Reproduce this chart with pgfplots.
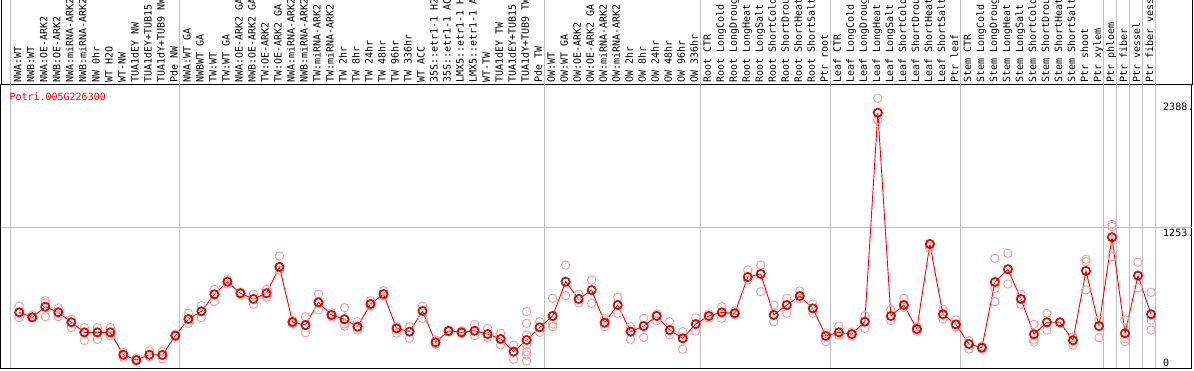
\documentclass[border=0pt]{standalone}
\usepackage{pgfplots}
\pgfplotsset{compat=1.18}
\usepackage{pgfplotstable}
\usepackage{fontspec}
\setmonofont{DejaVu Sans Mono}
\definecolor{rep}{RGB}{240,165,165}
\definecolor{sep}{RGB}{192,192,192}

\pgfplotstableread{
x y
0 515
1 472
2 564
3 515
4 428
5 340
6 340
7 340
8 144
9 98
10 144
11 142
12 311
13 457
14 524
15 673
16 783
17 682
18 632
19 682
20 912
21 430
22 404
23 603
24 492
25 454
26 389
27 588
28 675
29 375
30 346
31 527
32 253
33 352
34 340
35 354
36 325
37 282
38 171
39 273
40 384
41 483
42 783
43 632
44 710
45 424
46 579
47 346
48 395
49 483
50 360
51 288
52 413
53 483
54 515
55 507
56 824
57 851
58 492
59 579
60 658
61 550
62 308
63 340
64 325
65 433
66 2262
67 483
68 579
69 369
70 1113
71 498
72 410
73 238
74 206
75 780
76 892
77 632
78 323
79 428
80 428
81 270
82 877
83 395
84 1172
85 332
86 836
87 498
}\means

\pgfplotstableread{
x y
0 570
0 468
1 492
1 466
2 617
2 477
2 597
3 553
3 477
4 454
4 381
5 381
5 270
6 381
6 279
7 381
7 311
8 162
8 122
9 115
9 89
10 179
10 127
11 171
11 107
12 325
12 299
13 507
13 419
14 573
14 468
15 716
15 608
16 802
16 763
17 690
17 667
18 673
18 585
19 716
19 647
20 1008
20 885
21 444
21 413
22 477
22 337
23 675
23 536
24 509
24 474
25 556
25 395
25 413
26 433
26 360
27 617
27 570
28 704
28 658
29 389
29 334
30 389
30 288
31 570
31 463
32 235
32 273
33 360
33 343
34 352
34 330
35 409
35 311
36 375
36 296
37 332
37 229
38 229
38 104
39 521
39 419
39 317
39 229
39 171
39 142
39 89
40 433
40 340
41 638
41 413
41 389
42 929
42 661
43 673
43 597
44 798
44 594
45 463
45 389
46 647
46 507
47 389
47 279
48 463
48 296
49 500
49 442
50 433
50 317
51 346
51 192
52 468
52 352
53 500
53 466
54 564
54 463
55 527
55 492
56 885
56 798
57 929
57 696
58 579
58 433
59 638
59 507
60 702
60 632
61 588
61 507
62 334
62 258
63 395
63 317
64 343
64 308
65 486
65 375
66 2388
66 2198
67 536
67 442
68 638
68 559
69 387
69 352
70 1075
70 1096
71 542
71 457
72 448
72 387
73 267
73 194
74 220
74 194
75 988
75 725
75 608
76 1032
76 763
77 673
77 585
78 410
78 253
78 273
79 507
79 360
81 299
81 229
82 979
82 958
82 712
83 448
83 293
84 1285
84 1264
84 1002
85 448
85 283
85 258
86 953
86 729
87 690
87 448
87 360
}\reps

\begin{document}
\begin{tikzpicture}
\useasboundingbox (0,0) rectangle (1194pt,370pt);
\begin{axis}[
  at={(1pt,2pt)}, anchor=south west,
  scale only axis, width=1191pt, height=283pt,
  xmin=-1.407, xmax=90.15, ymin=28, ymax=2504,
  clip=false,
  axis line style={black, line width=1pt},
  ytick=\empty,
  xtick={0,...,87},
  xticklabel pos=upper,
  major tick length=0pt,
  xtick style={draw=none},
  xticklabel shift=2pt,
  xticklabel style={rotate=90, anchor=mid west, inner sep=0pt,
    font=\fontsize{10}{10}\selectfont\ttfamily},
  xticklabels={{NWA:WT},{NWB:WT},{NWA:OE-ARK2},{NWB:OE-ARK2},{NWA:miRNA-ARK2},{NWB:miRNA-ARK2},{NW 0hr},{WT H2O},{WT-NW},{TUA1dEY NW},{TUA1dEY+TUB15},{TUA1dY+TUB9 NW},{Pde NW},
  {NWA:WT GA},{NWBWT GA},{TW:WT},{TW:WT GA},{NWA:OE-ARK2 GA},{NWB:OE-ARK2 GA},{TW:OE-ARK2},{TW:OE-ARK2 GA},{NWA:miRNA-ARK2},{NWB:miRNA-ARK2},{TW:miRNA-ARK2},{TW:miRNA-ARK2},{TW 2hr},{TW 8hr},{TW 24hr},{TW 48hr},{TW 96hr},{TW 336hr},{WT ACC},{35S::etr1-1 H2},{35S::etr1-1 AC},{LMX5::etr1-1 H},{LMX5::etr1-1 A},{WT-TW},{TUA1dEY TW},{TUA1dEY+TUB15},{TUA1dY+TUB9 TW},{Pde TW},
  {OW:WT},{OW:WT GA},{OW:OE-ARK2},{OW:OE-ARK2 GA},{OW:miRNA-ARK2},{OW:miRNA-ARK2},{OW 2hr},{OW 8hr},{OW 24hr},{OW 48hr},{OW 96hr},{OW 336hr},
  {Root CTR},{Root LongCold},{Root LongDroug},{Root LongHeat},{Root LongSalt},{Root ShortCold},{Root ShortDrou},{Root ShortHeat},{Root ShortSalt},{Ptr root},
  {Leaf CTR},{Leaf LongCold},{Leaf LongDroug},{Leaf LongHeat},{Leaf LongSalt},{Leaf ShortCold},{Leaf ShortDrou},{Leaf ShortHeat},{Leaf ShortSalt},{Ptr leaf},
  {Stem CTR},{Stem LongCold},{Stem LongDroug},{Stem LongHeat},{Stem LongSalt},{Stem ShortCold},{Stem ShortDrou},{Stem ShortHeat},{Stem ShortSalt},{Ptr shoot},{Ptr xylem},
  {Ptr phloem},{Ptr fiber},{Ptr vessel},{Ptr fiber vess}},
]
\foreach \s in {-0.65,12.35,40.35,52.35,62.38,72.38,83.35,84.35,85.35,86.35,87.33}{
  \edef\tmp{\noexpand\draw[sep, line width=1pt] (axis cs:\s,28) -- (axis cs:\s,3248);}
  \tmp
}
\draw[sep, line width=1pt] (axis cs:-1.407,1253) -- (axis cs:90.15,1253);
\addplot[only marks, mark=o, mark size=4.2pt, mark options={draw=rep, color=rep, line width=1pt}] table[x=x,y=y]{\reps};
\addplot[red, line width=0.9pt, mark=o, mark size=4.4pt, mark options={draw=red, color=red, line width=1.3pt}] table[x=x,y=y]{\means};
\addplot[only marks, mark=o, mark size=3.5pt, mark options={draw=black!80!red, color=black!80!red, line width=0.4pt}] table[x=x,y=y]{\means};
\end{axis}
\draw[black, line width=1pt] (1pt,285pt) -- (1pt,370pt);
\draw[black, line width=1pt] (1192pt,285pt) -- (1192pt,370pt);
\node[anchor=north west, inner sep=0pt, text=red, font=\fontsize{10}{10}\selectfont\ttfamily] at (9.3pt,277pt) {Potri.005G226300};
\node[anchor=north west, inner sep=0pt, font=\fontsize{10}{10}\selectfont\ttfamily] at (1163pt,267pt) {2388.};
\node[anchor=north west, inner sep=0pt, font=\fontsize{10}{10}\selectfont\ttfamily] at (1163pt,141pt) {1253.};
\node[anchor=north west, inner sep=0pt, font=\fontsize{10}{10}\selectfont\ttfamily] at (1163pt,11pt) {0};
\end{tikzpicture}
\end{document}
